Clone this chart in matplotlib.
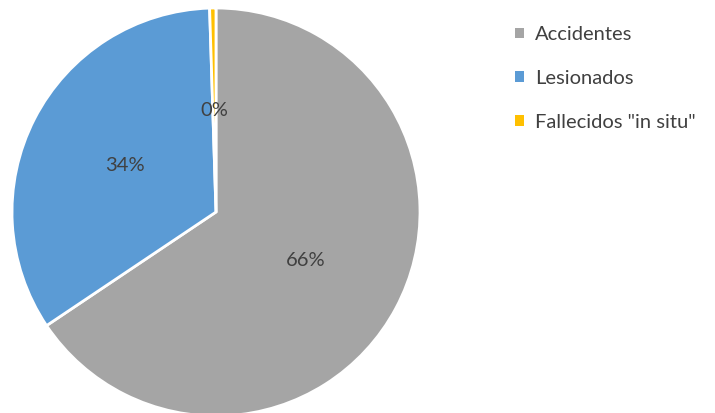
import matplotlib
matplotlib.use("Agg")
import matplotlib.pyplot as plt
from matplotlib.patches import Patch

labels = ['Accidentes', 'Lesionados', 'Fallecidos "in situ"']
values = [65.6, 33.9, 0.5]
colors = ['#A5A5A5', '#5B9BD5', '#FFC000']

plt.rcParams['font.family'] = ['Lato', 'DejaVu Sans']

fig = plt.figure(figsize=(7.15, 4.13), dpi=100)
W, H = 715, 413
cx, cy, r = 216, 212, 204
ax = fig.add_axes([(cx - r) / W, (H - cy - r) / H, 2 * r / W, 2 * r / H])

wedges, texts, autotexts = ax.pie(
    values, colors=colors, startangle=90, counterclock=False,
    autopct='%1.0f%%', pctdistance=0.5,
    wedgeprops=dict(edgecolor='white', linewidth=2),
    textprops=dict(color='#404040', fontsize=14.5))
ax.set_xlim(-1, 1)
ax.set_ylim(-1, 1)
ax.set_aspect('equal')

handles = [Patch(facecolor=c, edgecolor='none') for c in colors]
fig.legend(handles, labels, loc='upper left', bbox_to_anchor=(497 / W, 1 - 8 / H),
           frameon=False, fontsize=14.5, labelcolor='#404040',
           handlelength=0.45, handleheight=0.45, handletextpad=0.55,
           labelspacing=1.33)

fig.savefig('out.png', dpi=100)
